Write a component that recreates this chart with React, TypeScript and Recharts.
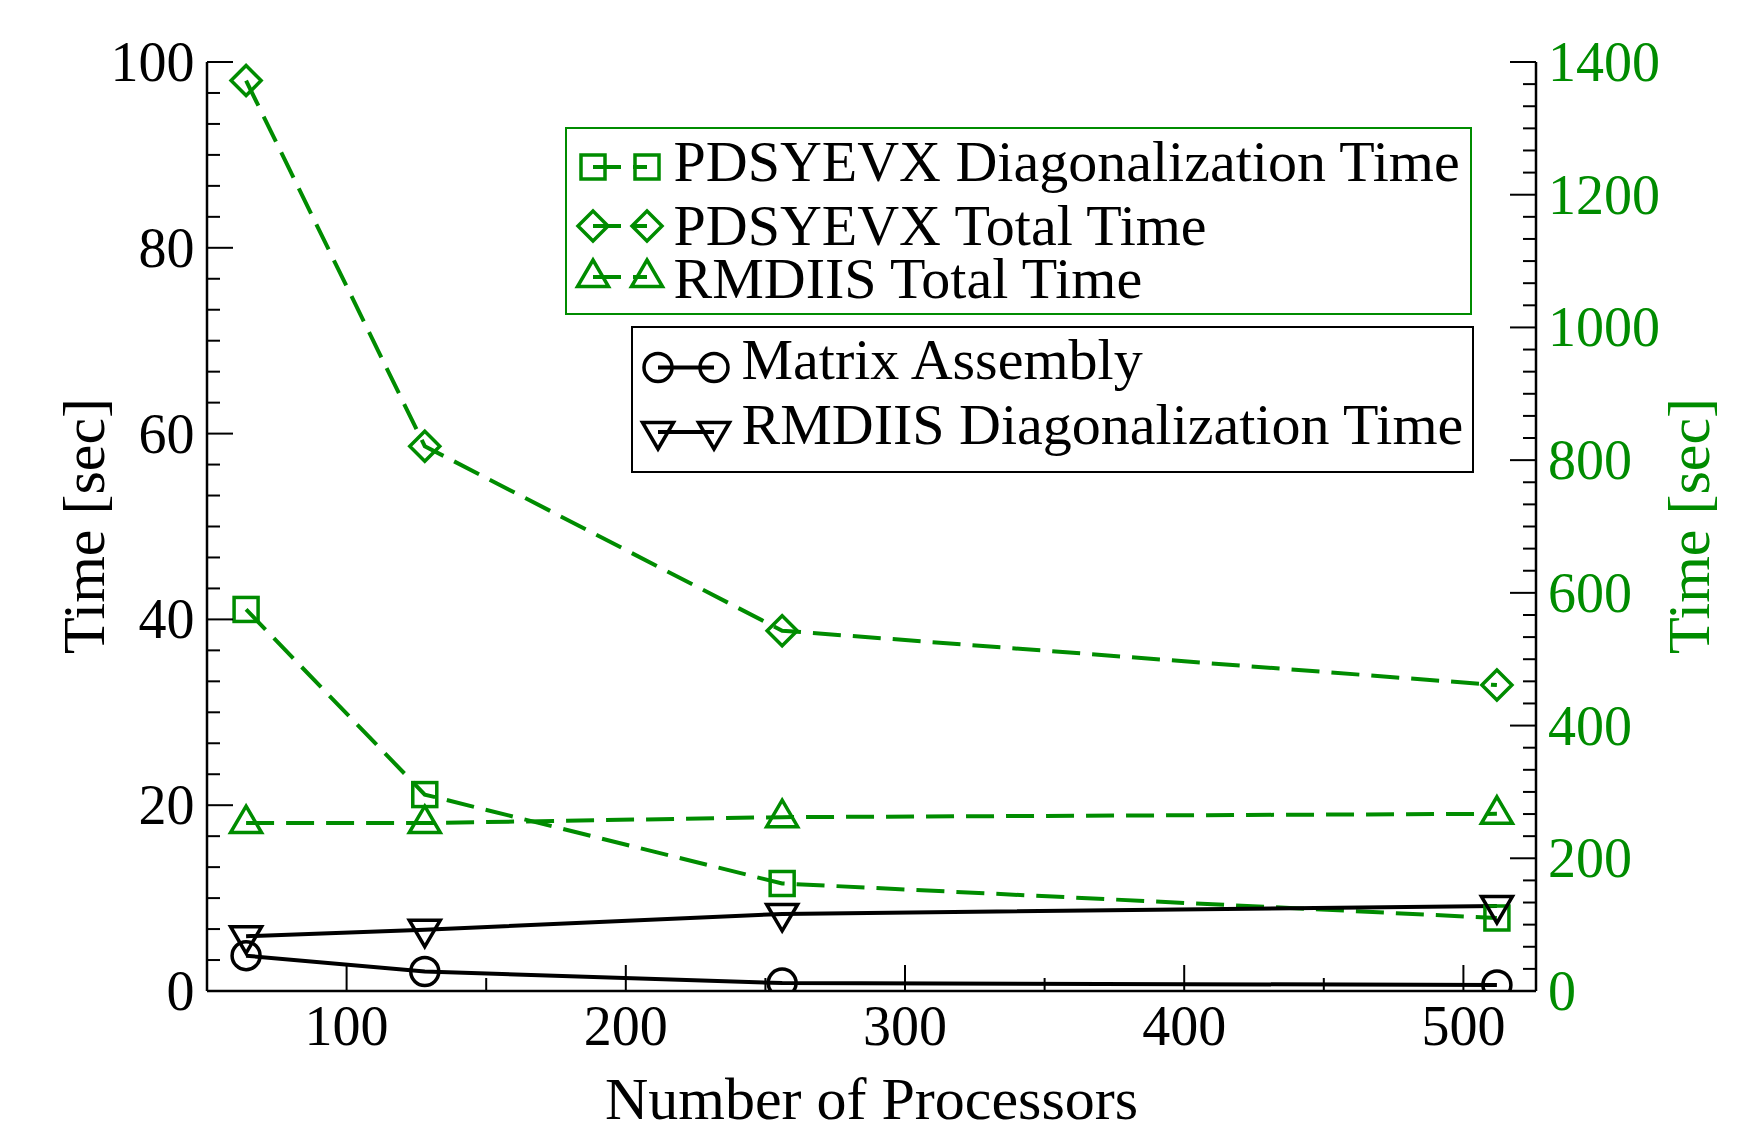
import React from "react";
import { LineChart, Line, XAxis, YAxis, Legend, Label } from "recharts";

// measured data (x = number of processors)
const processors = [64, 128, 256, 512];
const pdsyevxDiagonalization = [575, 296, 162, 110]; // right axis
const pdsyevxTotal = [1372, 821, 543, 461]; // right axis
const rmdiisTotal = [253, 253, 262, 267]; // right axis
const matrixAssembly = [3.8, 2.1, 0.85, 0.65]; // left axis
const rmdiisDiagonalization = [5.9, 6.6, 8.3, 9.15]; // left axis

const xMajorTicks = [100, 200, 300, 400, 500];
const leftMajorTicks = [0, 20, 40, 60, 80, 100];
const rightMajorTicks = [0, 200, 400, 600, 800, 1000, 1200, 1400];

const GREEN = "#008c00";
const FONT = "'Liberation Serif', 'Times New Roman', serif";
const WIDTH = 1761;
const HEIGHT = 1133;
const MAJOR = 26;
const MINOR = 13;

type MarkerKind = "square" | "diamond" | "triangleUp" | "circle" | "triangleDown";

interface SeriesDef {
  key: string;
  name: string;
  values: number[];
  axis: "left" | "right";
  color: string;
  dash?: string;
  marker: MarkerKind;
}

const greenSeries: SeriesDef[] = [
  { key: "pdsyevxDiag", name: "PDSYEVX Diagonalization Time", values: pdsyevxDiagonalization, axis: "right", color: GREEN, dash: "28 12", marker: "square" },
  { key: "pdsyevxTotal", name: "PDSYEVX Total Time", values: pdsyevxTotal, axis: "right", color: GREEN, dash: "28 12", marker: "diamond" },
  { key: "rmdiisTotal", name: "RMDIIS Total Time", values: rmdiisTotal, axis: "right", color: GREEN, dash: "28 12", marker: "triangleUp" },
];

const blackSeries: SeriesDef[] = [
  { key: "matrixAssembly", name: "Matrix Assembly", values: matrixAssembly, axis: "left", color: "#000", marker: "circle" },
  { key: "rmdiisDiag", name: "RMDIIS Diagonalization Time", values: rmdiisDiagonalization, axis: "left", color: "#000", marker: "triangleDown" },
];

const allSeries = [...greenSeries, ...blackSeries];

const data = processors.map((p, i) => {
  const row: Record<string, number> = { processors: p };
  allSeries.forEach((s) => {
    row[s.key] = s.values[i];
  });
  return row;
});

// major ticks plus evenly split minor ticks
function withMinors(majors: number[], parts: number) {
  const out: number[] = [];
  for (let i = 0; i < majors.length - 1; i++) {
    const a = majors[i];
    const b = majors[i + 1];
    for (let k = 0; k < parts; k++) out.push(a + ((b - a) * k) / parts);
  }
  out.push(majors[majors.length - 1]);
  return out;
}

const xTicks = withMinors(xMajorTicks, 2);
const leftTicks = withMinors(leftMajorTicks, 6);
const rightTicks = withMinors(rightMajorTicks, 6);

const isMajor = (v: number, majors: number[]) => majors.some((m) => Math.abs(m - v) < 1e-6);

function Marker({ kind, cx, cy, color }: { kind: MarkerKind; cx: number; cy: number; color: string }) {
  const common = { fill: "none", stroke: color, strokeWidth: 3.5 };
  switch (kind) {
    case "square":
      return <rect x={cx - 12} y={cy - 12} width={24} height={24} {...common} />;
    case "diamond":
      return <polygon points={`${cx},${cy - 15} ${cx + 15},${cy} ${cx},${cy + 15} ${cx - 15},${cy}`} {...common} />;
    case "triangleUp":
      return <polygon points={`${cx},${cy - 17} ${cx + 15.5},${cy + 9.5} ${cx - 15.5},${cy + 9.5}`} {...common} />;
    case "triangleDown":
      return <polygon points={`${cx},${cy + 17} ${cx + 15.5},${cy - 9.5} ${cx - 15.5},${cy - 9.5}`} {...common} />;
    default:
      return <circle cx={cx} cy={cy} r={14} {...common} />;
  }
}

const BottomTick = (props: any) => {
  const { x, y, payload } = props;
  const major = isMajor(payload.value, xMajorTicks);
  return (
    <g>
      <line x1={x} x2={x} y1={y} y2={y - (major ? MAJOR : MINOR)} stroke="#000" strokeWidth={2} />
      {major && (
        <text x={x} y={y + 54} textAnchor="middle" fontSize={56} fontFamily={FONT} fill="#000">
          {payload.value}
        </text>
      )}
    </g>
  );
};

const TopTick = (props: any) => {
  const { x, y, payload } = props;
  const major = isMajor(payload.value, xMajorTicks);
  return <line x1={x} x2={x} y1={y} y2={y + (major ? MAJOR : MINOR)} stroke="#000" strokeWidth={2} />;
};

const LeftTick = (props: any) => {
  const { x, y, payload } = props;
  const major = isMajor(payload.value, leftMajorTicks);
  return (
    <g>
      <line x1={x} x2={x + (major ? MAJOR : MINOR)} y1={y} y2={y} stroke="#000" strokeWidth={2} />
      {major && (
        <text x={x - 12.5} y={y + 19} textAnchor="end" fontSize={56} fontFamily={FONT} fill="#000">
          {payload.value}
        </text>
      )}
    </g>
  );
};

const RightTick = (props: any) => {
  const { x, y, payload } = props;
  const major = isMajor(payload.value, rightMajorTicks);
  return (
    <g>
      <line x1={x} x2={x - (major ? MAJOR : MINOR)} y1={y} y2={y} stroke="#000" strokeWidth={2} />
      {major && (
        <text x={x + 12} y={y + 19} textAnchor="start" fontSize={56} fontFamily={FONT} fill={GREEN}>
          {Math.round(payload.value)}
        </text>
      )}
    </g>
  );
};

function LegendBox({
  items,
  box,
  markerX,
  textX,
  rows,
  stroke,
}: {
  items: SeriesDef[];
  box: [number, number, number, number];
  markerX: [number, number];
  textX: number;
  rows: { baseline: number; mid: number }[];
  stroke: string;
}) {
  const [x1, y1, x2, y2] = box;
  return (
    <g>
      <rect x={x1} y={y1} width={x2 - x1} height={y2 - y1} fill="#fff" stroke={stroke} strokeWidth={2} />
      {items.map((s, i) => (
        <g key={s.key}>
          <line
            x1={markerX[0]}
            x2={markerX[1]}
            y1={rows[i].mid}
            y2={rows[i].mid}
            stroke={s.color}
            strokeWidth={4}
            strokeDasharray={s.dash}
          />
          <Marker kind={s.marker} cx={markerX[0]} cy={rows[i].mid} color={s.color} />
          <Marker kind={s.marker} cx={markerX[1]} cy={rows[i].mid} color={s.color} />
          <text x={textX} y={rows[i].baseline} fontSize={58} fontFamily={FONT} fill="#000">
            {s.name}
          </text>
        </g>
      ))}
    </g>
  );
}

const renderLegend = () => (
  <svg width={WIDTH} height={HEIGHT} style={{ position: "absolute", left: 0, top: 0, pointerEvents: "none" }}>
    <LegendBox
      items={greenSeries}
      box={[566, 128, 1471, 314]}
      markerX={[593, 647]}
      textX={673.5}
      rows={[
        { baseline: 180.7, mid: 167 },
        { baseline: 245, mid: 226 },
        { baseline: 298.3, mid: 277 },
      ]}
      stroke={GREEN}
    />
    <LegendBox
      items={blackSeries}
      box={[632, 327, 1473, 472]}
      markerX={[658, 714]}
      textX={741.5}
      rows={[
        { baseline: 379.3, mid: 367.5 },
        { baseline: 444, mid: 432 },
      ]}
      stroke="#000"
    />
  </svg>
);

export default function App() {
  return (
    <div style={{ width: WIDTH, height: HEIGHT, background: "#fff" }}>
      <style>{"body{margin:0;background:#fff}"}</style>
      <LineChart width={WIDTH} height={HEIGHT} data={data} margin={{ top: 62, right: 0, bottom: 0, left: 0 }}>
        <XAxis
          dataKey="processors"
          type="number"
          domain={[50, 526]}
          allowDataOverflow
          ticks={xTicks}
          interval={0}
          tickSize={0}
          tickMargin={0}
          tickLine={false}
          tick={BottomTick}
          height={142}
          axisLine={{ stroke: "#000", strokeWidth: 2.5 }}
        >
          <Label
            content={(p: any) => {
              const vb = p.viewBox;
              return (
                <text x={vb.x + vb.width / 2} y={vb.y + 128} textAnchor="middle" fontSize={60} fontFamily={FONT} fill="#000">
                  Number of Processors
                </text>
              );
            }}
          />
        </XAxis>
        <XAxis
          xAxisId="top"
          orientation="top"
          dataKey="processors"
          type="number"
          domain={[50, 526]}
          allowDataOverflow
          ticks={xTicks}
          interval={0}
          tickSize={0}
          tickMargin={0}
          tickLine={false}
          tick={TopTick}
          height={0}
          axisLine={{ stroke: "#000", strokeWidth: 2.5 }}
        />
        <YAxis
          yAxisId="left"
          orientation="left"
          type="number"
          domain={[0, 100]}
          allowDataOverflow
          ticks={leftTicks}
          interval={0}
          tickSize={0}
          tickMargin={0}
          tickLine={false}
          tick={LeftTick}
          width={207}
          axisLine={{ stroke: "#000", strokeWidth: 2.5 }}
        >
          <Label
            content={(p: any) => {
              const vb = p.viewBox;
              return (
                <text
                  transform={`translate(${vb.x + 104}, 526) rotate(-90)`}
                  textAnchor="middle"
                  fontSize={60}
                  fontFamily={FONT}
                  fill="#000"
                >
                  Time [sec]
                </text>
              );
            }}
          />
        </YAxis>
        <YAxis
          yAxisId="right"
          orientation="right"
          type="number"
          domain={[0, 1400]}
          allowDataOverflow
          ticks={rightTicks}
          interval={0}
          tickSize={0}
          tickMargin={0}
          tickLine={false}
          tick={RightTick}
          width={225}
          axisLine={{ stroke: "#000", strokeWidth: 2.5 }}
        >
          <Label
            content={(p: any) => {
              const vb = p.viewBox;
              return (
                <text
                  transform={`translate(${vb.x + 173}, 526) rotate(-90)`}
                  textAnchor="middle"
                  fontSize={60}
                  fontFamily={FONT}
                  fill={GREEN}
                >
                  Time [sec]
                </text>
              );
            }}
          />
        </YAxis>
        {allSeries.map((s) => (
          <Line
            key={s.key}
            dataKey={s.key}
            name={s.name}
            yAxisId={s.axis}
            type="linear"
            stroke={s.color}
            strokeWidth={4}
            strokeDasharray={s.dash}
            isAnimationActive={false}
            dot={(p: any) => <Marker key={`${s.key}-${p.index}`} kind={s.marker} cx={p.cx} cy={p.cy} color={s.color} />}
            activeDot={false}
          />
        ))}
        <Legend
          layout="horizontal"
          verticalAlign="middle"
          align="center"
          content={renderLegend}
          wrapperStyle={{ left: 0, top: 0, width: WIDTH, height: HEIGHT, pointerEvents: "none" }}
        />
      </LineChart>
    </div>
  );
}
